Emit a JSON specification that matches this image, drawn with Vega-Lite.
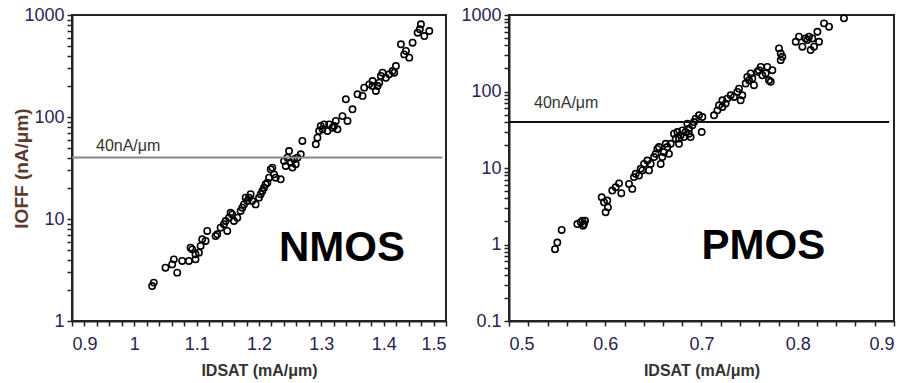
{
  "$schema": "https://vega.github.io/schema/vega-lite/v6.json",
  "background": "white",
  "padding": {"left": 11, "top": 5, "right": 5, "bottom": 0},
  "spacing": 63,
  "bounds": "flush",
  "config": {
    "view": {"stroke": "#222", "strokeWidth": 2},
    "axis": {
      "grid": false, "domainColor": "#222", "domainWidth": 2,
      "tickColor": "#222", "tickWidth": 1.5, "tickSize": 5,
      "labelFont": "Liberation Sans", "labelFontSize": 18, "labelColor": "#2a2350",
      "labelOverlap": false,
      "titleFont": "Liberation Sans", "titleFontWeight": "bold", "titleFontSize": 16, "titleColor": "#333"
    }
  },
  "datasets": {
    "nmos": [
      {"idsat":1.0286,"ioff":2.20},{"idsat":1.0312,"ioff":2.38},{"idsat":1.05,"ioff":3.33},{"idsat":1.0607,"ioff":3.59},{"idsat":1.0634,"ioff":4.02},{"idsat":1.0688,"ioff":2.98},{"idsat":1.0768,"ioff":3.88},{"idsat":1.0875,"ioff":3.88},{"idsat":1.0902,"ioff":5.24},{"idsat":1.0929,"ioff":5.04},{"idsat":1.0982,"ioff":4.51},{"idsat":1.1036,"ioff":4.68},{"idsat":1.1063,"ioff":5.44},{"idsat":1.0982,"ioff":4.02},{"idsat":1.1143,"ioff":6.09},{"idsat":1.117,"ioff":7.63},{"idsat":1.1089,"ioff":6.32},{"idsat":1.133,"ioff":7.08},{"idsat":1.1384,"ioff":8.22},{"idsat":1.1437,"ioff":8.87},{"idsat":1.1464,"ioff":9.56},{"idsat":1.1491,"ioff":7.63},{"idsat":1.1518,"ioff":10.3},{"idsat":1.1545,"ioff":11.5},{"idsat":1.1652,"ioff":10.3},{"idsat":1.1705,"ioff":12.0},{"idsat":1.1759,"ioff":13.9},{"idsat":1.1786,"ioff":16.2},{"idsat":1.1813,"ioff":15.0},{"idsat":1.1866,"ioff":17.5},{"idsat":1.1893,"ioff":15.0},{"idsat":1.1946,"ioff":13.9},{"idsat":1.2,"ioff":16.2},{"idsat":1.2054,"ioff":18.8},{"idsat":1.208,"ioff":20.3},{"idsat":1.2107,"ioff":21.9},{"idsat":1.2161,"ioff":25.4},{"idsat":1.2188,"ioff":30.7},{"idsat":1.2214,"ioff":31.9},{"idsat":1.2241,"ioff":27.4},{"idsat":1.2268,"ioff":25.4},{"idsat":1.2348,"ioff":24.5},{"idsat":1.2402,"ioff":37.0},{"idsat":1.2455,"ioff":39.9},{"idsat":1.2482,"ioff":46.4},{"idsat":1.2509,"ioff":35.7},{"idsat":1.2536,"ioff":31.9},{"idsat":1.2563,"ioff":38.5},{"idsat":1.2616,"ioff":39.9},{"idsat":1.267,"ioff":43.1},{"idsat":1.2696,"ioff":58.2},{"idsat":1.2911,"ioff":54},{"idsat":1.2938,"ioff":62.7},{"idsat":1.2964,"ioff":72.9},{"idsat":1.2991,"ioff":81.6},{"idsat":1.3018,"ioff":75.7},{"idsat":1.3045,"ioff":84.7},{"idsat":1.3098,"ioff":72.9},{"idsat":1.3125,"ioff":84.7},{"idsat":1.3179,"ioff":78.6},{"idsat":1.3232,"ioff":91.4},{"idsat":1.3259,"ioff":75.7},{"idsat":1.3339,"ioff":102},{"idsat":1.3393,"ioff":149},{"idsat":1.342,"ioff":91.4},{"idsat":1.35,"ioff":119},{"idsat":1.358,"ioff":167},{"idsat":1.3661,"ioff":161},{"idsat":1.3688,"ioff":194},{"idsat":1.3768,"ioff":209},{"idsat":1.3821,"ioff":201},{"idsat":1.3875,"ioff":180},{"idsat":1.3929,"ioff":217},{"idsat":1.3955,"ioff":253},{"idsat":1.3982,"ioff":272},{"idsat":1.4036,"ioff":243},{"idsat":1.4089,"ioff":262},{"idsat":1.4143,"ioff":282},{"idsat":1.4196,"ioff":316},{"idsat":1.4277,"ioff":516},{"idsat":1.433,"ioff":411},{"idsat":1.4357,"ioff":444},{"idsat":1.4411,"ioff":382},{"idsat":1.4464,"ioff":535},{"idsat":1.4545,"ioff":671},{"idsat":1.4598,"ioff":810},{"idsat":1.4652,"ioff":622},{"idsat":1.4732,"ioff":697},{"idsat":1.458,"ioff":724},{"idsat":1.1304,"ioff":6.81},{"idsat":1.1571,"ioff":11.1},{"idsat":1.1598,"ioff":9.56},{"idsat":1.1732,"ioff":12.9},{"idsat":1.1839,"ioff":16.2},{"idsat":1.2027,"ioff":17.5},{"idsat":1.2134,"ioff":22.7},{"idsat":1.2429,"ioff":33.1},{"idsat":1.2589,"ioff":34.4},{"idsat":1.3205,"ioff":81.6},{"idsat":1.3821,"ioff":225},{"idsat":1.3902,"ioff":201},{"idsat":1.417,"ioff":272}
    ],
    "pmos": [
      {"idsat":0.5478,"ioff":0.87},{"idsat":0.5502,"ioff":1.06},{"idsat":0.5547,"ioff":1.55},{"idsat":0.571,"ioff":1.85},{"idsat":0.5745,"ioff":1.95},{"idsat":0.5762,"ioff":2.05},{"idsat":0.5779,"ioff":1.85},{"idsat":0.579,"ioff":2.05},{"idsat":0.5769,"ioff":1.76},{"idsat":0.5963,"ioff":4.14},{"idsat":0.5987,"ioff":3.56},{"idsat":0.6004,"ioff":2.64},{"idsat":0.6021,"ioff":3.75},{"idsat":0.6028,"ioff":3.06},{"idsat":0.6073,"ioff":5.07},{"idsat":0.6108,"ioff":5.6},{"idsat":0.6143,"ioff":6.3},{"idsat":0.6167,"ioff":4.68},{"idsat":0.6247,"ioff":6.2},{"idsat":0.6281,"ioff":5.33},{"idsat":0.6298,"ioff":7.6},{"idsat":0.6316,"ioff":8.4},{"idsat":0.635,"ioff":8.0},{"idsat":0.6368,"ioff":9.8},{"idsat":0.6385,"ioff":9.3},{"idsat":0.6403,"ioff":11.3},{"idsat":0.6437,"ioff":12.5},{"idsat":0.6455,"ioff":9.3},{"idsat":0.6472,"ioff":11.3},{"idsat":0.6507,"ioff":13.9},{"idsat":0.6524,"ioff":15.3},{"idsat":0.6541,"ioff":17.8},{"idsat":0.6558,"ioff":18.8},{"idsat":0.6576,"ioff":11.3},{"idsat":0.6593,"ioff":13.9},{"idsat":0.661,"ioff":16.1},{"idsat":0.6628,"ioff":20.7},{"idsat":0.6645,"ioff":18.8},{"idsat":0.6662,"ioff":15.3},{"idsat":0.668,"ioff":20.7},{"idsat":0.6714,"ioff":28.1},{"idsat":0.6732,"ioff":24.2},{"idsat":0.6749,"ioff":29.5},{"idsat":0.6766,"ioff":20.7},{"idsat":0.6784,"ioff":26.7},{"idsat":0.6801,"ioff":31.0},{"idsat":0.6818,"ioff":25.4},{"idsat":0.6835,"ioff":29.5},{"idsat":0.6853,"ioff":37.9},{"idsat":0.687,"ioff":32.6},{"idsat":0.6887,"ioff":25.4},{"idsat":0.6905,"ioff":36.1},{"idsat":0.6922,"ioff":39.9},{"idsat":0.6939,"ioff":44.1},{"idsat":0.6974,"ioff":48.8},{"idsat":0.7009,"ioff":46.4},{"idsat":0.7002,"ioff":29.5},{"idsat":0.713,"ioff":48.8},{"idsat":0.7165,"ioff":56.7},{"idsat":0.7182,"ioff":66},{"idsat":0.7217,"ioff":76.8},{"idsat":0.7251,"ioff":69.5},{"idsat":0.7268,"ioff":80.7},{"idsat":0.7303,"ioff":89.3},{"idsat":0.7338,"ioff":84.9},{"idsat":0.7372,"ioff":98.8},{"idsat":0.739,"ioff":109},{"idsat":0.7407,"ioff":76.8},{"idsat":0.7424,"ioff":89.3},{"idsat":0.7459,"ioff":127},{"idsat":0.7476,"ioff":155},{"idsat":0.7494,"ioff":140},{"idsat":0.7528,"ioff":148},{"idsat":0.7545,"ioff":121},{"idsat":0.758,"ioff":181},{"idsat":0.7597,"ioff":190},{"idsat":0.7632,"ioff":163},{"idsat":0.7667,"ioff":172},{"idsat":0.7684,"ioff":210},{"idsat":0.7701,"ioff":140},{"idsat":0.7719,"ioff":134},{"idsat":0.7736,"ioff":190},{"idsat":0.7805,"ioff":366},{"idsat":0.7823,"ioff":314},{"idsat":0.7823,"ioff":257},{"idsat":0.784,"ioff":284},{"idsat":0.7979,"ioff":447},{"idsat":0.8013,"ioff":520},{"idsat":0.8048,"ioff":385},{"idsat":0.8082,"ioff":494},{"idsat":0.81,"ioff":470},{"idsat":0.8117,"ioff":520},{"idsat":0.8134,"ioff":348},{"idsat":0.8152,"ioff":494},{"idsat":0.8169,"ioff":385},{"idsat":0.8204,"ioff":604},{"idsat":0.8221,"ioff":447},{"idsat":0.8273,"ioff":778},{"idsat":0.8325,"ioff":703},{"idsat":0.848,"ioff":904},{"idsat":0.6766,"ioff":24.2},{"idsat":0.687,"ioff":28.1},{"idsat":0.7217,"ioff":62.8},{"idsat":0.751,"ioff":172},{"idsat":0.7615,"ioff":210}
    ]
  },
  "hconcat": [
    {
      "width": 374,
      "height": 306,
      "layer": [
        {
          "data": {"name": "nmos"},
          "mark": {"type": "point", "shape": "circle", "filled": false, "color": "black", "size": 40, "strokeWidth": 1.6, "opacity": 1},
          "encoding": {
            "x": {"field": "idsat", "type": "quantitative",
              "scale": {"domain": [0.9, 1.5], "nice": false, "zero": false},
              "axis": {"title": "IDSAT (mA/μm)", "values": [0.9,0.92,0.94,0.96,0.98,1,1.02,1.04,1.06,1.08,1.1,1.12,1.14,1.16,1.18,1.2,1.22,1.24,1.26,1.28,1.3,1.32,1.34,1.36,1.38,1.4,1.42,1.44,1.46,1.48,1.5],
                "labelExpr": "abs(datum.value*10 - round(datum.value*10)) < 0.001 ? format(datum.value, '~g') : ''",
                "labelOverlap": false, "labelPadding": 9, "titlePadding": 9}},
            "y": {"field": "ioff", "type": "quantitative",
              "scale": {"type": "log", "domain": [1, 1000], "nice": false},
              "axis": {"title": "IOFF (nA/μm)", "titleColor": "#5c3a30", "titleFontSize": 19, "titleX": -41,
                "values": [1,2,3,4,5,6,7,8,9,10,20,30,40,50,60,70,80,90,100,200,300,400,500,600,700,800,900,1000],
                "labelExpr": "indexof([0.1,1,10,100,1000], datum.value) >= 0 ? format(datum.value, '~g') : ''",
                "labelOverlap": false, "labelPadding": 3, "titlePadding": 4}}
          }
        },
        {
          "data": {"values": [{}]},
          "mark": {"type": "rule", "color": "#888", "strokeWidth": 2},
          "encoding": {
            "x": {"datum": 0.9, "type": "quantitative",
              "axis": {"title": "IDSAT (mA/μm)", "values": [0.9,0.92,0.94,0.96,0.98,1,1.02,1.04,1.06,1.08,1.1,1.12,1.14,1.16,1.18,1.2,1.22,1.24,1.26,1.28,1.3,1.32,1.34,1.36,1.38,1.4,1.42,1.44,1.46,1.48,1.5],
                "labelExpr": "abs(datum.value*10 - round(datum.value*10)) < 0.001 ? format(datum.value, '~g') : ''",
                "labelOverlap": false, "labelPadding": 9, "titlePadding": 9}},
            "x2": {"datum": 1.494},
            "y": {"datum": 40, "type": "quantitative",
              "axis": {"title": "IOFF (nA/μm)", "titleColor": "#5c3a30", "titleFontSize": 19, "titleX": -41,
                "values": [1,2,3,4,5,6,7,8,9,10,20,30,40,50,60,70,80,90,100,200,300,400,500,600,700,800,900,1000],
                "labelExpr": "indexof([0.1,1,10,100,1000], datum.value) >= 0 ? format(datum.value, '~g') : ''",
                "labelOverlap": false, "labelPadding": 3, "titlePadding": 4}}
          }
        },
        {
          "data": {"values": [{}]},
          "mark": {"type": "text", "text": "40nA/μm", "font": "Liberation Sans", "fontSize": 16, "color": "#333", "align": "left", "baseline": "alphabetic"},
          "encoding": {
            "x": {"datum": 0.9385, "type": "quantitative",
              "axis": {"title": "IDSAT (mA/μm)", "values": [0.9,0.92,0.94,0.96,0.98,1,1.02,1.04,1.06,1.08,1.1,1.12,1.14,1.16,1.18,1.2,1.22,1.24,1.26,1.28,1.3,1.32,1.34,1.36,1.38,1.4,1.42,1.44,1.46,1.48,1.5],
                "labelExpr": "abs(datum.value*10 - round(datum.value*10)) < 0.001 ? format(datum.value, '~g') : ''",
                "labelOverlap": false, "labelPadding": 9, "titlePadding": 9}},
            "y": {"datum": 46, "type": "quantitative",
              "axis": {"title": "IOFF (nA/μm)", "titleColor": "#5c3a30", "titleFontSize": 19, "titleX": -41,
                "values": [1,2,3,4,5,6,7,8,9,10,20,30,40,50,60,70,80,90,100,200,300,400,500,600,700,800,900,1000],
                "labelExpr": "indexof([0.1,1,10,100,1000], datum.value) >= 0 ? format(datum.value, '~g') : ''",
                "labelOverlap": false, "labelPadding": 3, "titlePadding": 4}}
          }
        },
        {
          "data": {"values": [{}]},
          "mark": {"type": "text", "text": "NMOS", "font": "Liberation Sans", "fontWeight": "bold", "fontSize": 42, "color": "black", "align": "left", "baseline": "alphabetic"},
          "encoding": {
            "x": {"datum": 1.232, "type": "quantitative",
              "axis": {"title": "IDSAT (mA/μm)", "values": [0.9,0.92,0.94,0.96,0.98,1,1.02,1.04,1.06,1.08,1.1,1.12,1.14,1.16,1.18,1.2,1.22,1.24,1.26,1.28,1.3,1.32,1.34,1.36,1.38,1.4,1.42,1.44,1.46,1.48,1.5],
                "labelExpr": "abs(datum.value*10 - round(datum.value*10)) < 0.001 ? format(datum.value, '~g') : ''",
                "labelOverlap": false, "labelPadding": 9, "titlePadding": 9}},
            "y": {"datum": 3.85, "type": "quantitative",
              "axis": {"title": "IOFF (nA/μm)", "titleColor": "#5c3a30", "titleFontSize": 19, "titleX": -41,
                "values": [1,2,3,4,5,6,7,8,9,10,20,30,40,50,60,70,80,90,100,200,300,400,500,600,700,800,900,1000],
                "labelExpr": "indexof([0.1,1,10,100,1000], datum.value) >= 0 ? format(datum.value, '~g') : ''",
                "labelOverlap": false, "labelPadding": 3, "titlePadding": 4}}
          }
        }
      ]
    },
    {
      "width": 385,
      "height": 306,
      "layer": [
        {
          "data": {"name": "pmos"},
          "mark": {"type": "point", "shape": "circle", "filled": false, "color": "black", "size": 40, "strokeWidth": 1.6, "opacity": 1},
          "encoding": {
            "x": {"field": "idsat", "type": "quantitative",
              "scale": {"domain": [0.5, 0.9], "nice": false, "zero": false},
              "axis": {"title": "IDSAT (mA/μm)", "values": [0.5,0.52,0.54,0.56,0.58,0.6,0.62,0.64,0.66,0.68,0.7,0.72,0.74,0.76,0.78,0.8,0.82,0.84,0.86,0.88,0.9],
                "labelExpr": "abs(datum.value*10 - round(datum.value*10)) < 0.001 ? format(datum.value, '~g') : ''",
                "labelOverlap": false, "labelPadding": 9, "titlePadding": 9}},
            "y": {"field": "ioff", "type": "quantitative",
              "scale": {"type": "log", "domain": [0.1, 1000], "nice": false},
              "axis": {"title": null,
                "values": [0.1,0.2,0.3,0.4,0.5,0.6,0.7,0.8,0.9,1,2,3,4,5,6,7,8,9,10,20,30,40,50,60,70,80,90,100,200,300,400,500,600,700,800,900,1000],
                "labelExpr": "indexof([0.1,1,10,100,1000], datum.value) >= 0 ? format(datum.value, '~g') : ''",
                "labelOverlap": false, "labelPadding": 3}}
          }
        },
        {
          "data": {"values": [{}]},
          "mark": {"type": "rule", "color": "#111", "strokeWidth": 2},
          "encoding": {
            "x": {"datum": 0.5, "type": "quantitative",
              "axis": {"title": "IDSAT (mA/μm)", "values": [0.5,0.52,0.54,0.56,0.58,0.6,0.62,0.64,0.66,0.68,0.7,0.72,0.74,0.76,0.78,0.8,0.82,0.84,0.86,0.88,0.9],
                "labelExpr": "abs(datum.value*10 - round(datum.value*10)) < 0.001 ? format(datum.value, '~g') : ''",
                "labelOverlap": false, "labelPadding": 9, "titlePadding": 9}},
            "x2": {"datum": 0.895},
            "y": {"datum": 40, "type": "quantitative",
              "axis": {"title": null,
                "values": [0.1,0.2,0.3,0.4,0.5,0.6,0.7,0.8,0.9,1,2,3,4,5,6,7,8,9,10,20,30,40,50,60,70,80,90,100,200,300,400,500,600,700,800,900,1000],
                "labelExpr": "indexof([0.1,1,10,100,1000], datum.value) >= 0 ? format(datum.value, '~g') : ''",
                "labelOverlap": false, "labelPadding": 3}}
          }
        },
        {
          "data": {"values": [{}]},
          "mark": {"type": "text", "text": "40nA/μm", "font": "Liberation Sans", "fontSize": 16, "color": "#333", "align": "left", "baseline": "alphabetic"},
          "encoding": {
            "x": {"datum": 0.526, "type": "quantitative",
              "axis": {"title": "IDSAT (mA/μm)", "values": [0.5,0.52,0.54,0.56,0.58,0.6,0.62,0.64,0.66,0.68,0.7,0.72,0.74,0.76,0.78,0.8,0.82,0.84,0.86,0.88,0.9],
                "labelExpr": "abs(datum.value*10 - round(datum.value*10)) < 0.001 ? format(datum.value, '~g') : ''",
                "labelOverlap": false, "labelPadding": 9, "titlePadding": 9}},
            "y": {"datum": 60, "type": "quantitative",
              "axis": {"title": null,
                "values": [0.1,0.2,0.3,0.4,0.5,0.6,0.7,0.8,0.9,1,2,3,4,5,6,7,8,9,10,20,30,40,50,60,70,80,90,100,200,300,400,500,600,700,800,900,1000],
                "labelExpr": "indexof([0.1,1,10,100,1000], datum.value) >= 0 ? format(datum.value, '~g') : ''",
                "labelOverlap": false, "labelPadding": 3}}
          }
        },
        {
          "data": {"values": [{}]},
          "mark": {"type": "text", "text": "PMOS", "font": "Liberation Sans", "fontWeight": "bold", "fontSize": 42, "color": "black", "align": "left", "baseline": "alphabetic"},
          "encoding": {
            "x": {"datum": 0.7, "type": "quantitative",
              "axis": {"title": "IDSAT (mA/μm)", "values": [0.5,0.52,0.54,0.56,0.58,0.6,0.62,0.64,0.66,0.68,0.7,0.72,0.74,0.76,0.78,0.8,0.82,0.84,0.86,0.88,0.9],
                "labelExpr": "abs(datum.value*10 - round(datum.value*10)) < 0.001 ? format(datum.value, '~g') : ''",
                "labelOverlap": false, "labelPadding": 9, "titlePadding": 9}},
            "y": {"datum": 0.65, "type": "quantitative",
              "axis": {"title": null,
                "values": [0.1,0.2,0.3,0.4,0.5,0.6,0.7,0.8,0.9,1,2,3,4,5,6,7,8,9,10,20,30,40,50,60,70,80,90,100,200,300,400,500,600,700,800,900,1000],
                "labelExpr": "indexof([0.1,1,10,100,1000], datum.value) >= 0 ? format(datum.value, '~g') : ''",
                "labelOverlap": false, "labelPadding": 3}}
          }
        }
      ]
    }
  ]
}
